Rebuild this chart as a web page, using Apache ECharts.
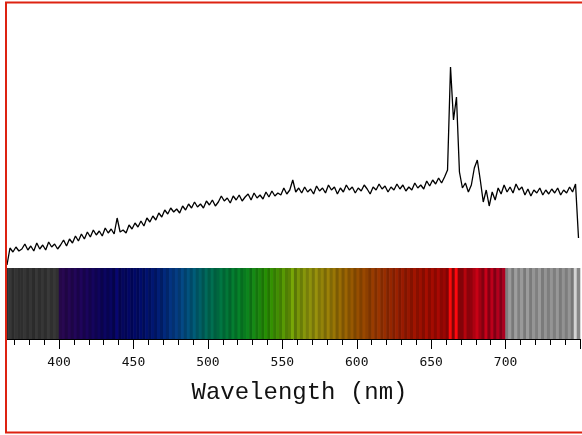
<!DOCTYPE html>
<html><head><meta charset="utf-8">
<script src="https://cdn.jsdelivr.net/npm/echarts@6/dist/echarts.min.js"></script>
<style>html,body{margin:0;padding:0;background:#fff}#c{width:582px;height:435px}</style>
</head><body><div id="c"></div>
<script>
// Spectrum samples: wavelength = WL_START + i*WL_STEP (nm), intensity in arbitrary units
const WL_START = 365, WL_STEP = 2;
const intensity = [
  15,32,28,33,29,   31,36,30,34,29,   37,31,35,30,38,   33,36,31,35,40,
  34,41,37,44,39,   46,41,48,43,50,   45,49,44,52,47,   51,46,62,48,50,
  47,55,51,57,53,   59,54,62,58,64,   60,67,63,70,66,   72,68,71,67,74,
  70,76,72,78,73,   76,72,79,75,80,   74,78,84,79,82,   77,84,80,85,79,
  83,86,80,87,82,   85,81,88,83,89,   84,87,85,92,86,   90,100,88,92,87,
  93,88,91,86,94,   89,92,87,95,90,   93,86,92,88,95,   90,93,87,92,89,
  95,91,86,93,90,   96,91,94,88,93,   90,96,91,95,89,   93,90,97,92,95,
  91,99,94,100,96,  102,97,103,110,213, 160,183,108,92,97, 88,95,112,120,100,
  78,90,74,88,80,   92,86,95,88,93,   87,96,90,93,85,   91,84,90,87,92,
  85,90,86,91,87,   92,85,90,87,93,   88,96,42
];
const X_MIN = 365, X_MAX = 750;
const TICKS_MINOR = [370,380,390,400,410,420,430,440,450,460,470,480,490,500,510,520,530,540,550,560,570,580,590,600,610,620,630,640,650,660,670,680,690,700,710,720,730,740,750];
const TICKS_MAJOR = [400,450,500,550,600,650,700,750];
const TICK_LABELS = [400,450,500,550,600,650,700];
const AXIS_TITLE = 'Wavelength (nm)';

// colour of the spectral band (style only)
const BAND_STOPS = [
  [365,[46,46,46]],[399.9,[52,52,52]],
  [400,[38,8,72]],[415,[28,4,82]],[430,[10,4,86]],[450,[0,6,92]],[465,[0,22,105]],
  [480,[5,60,125]],[490,[0,82,112]],[500,[0,98,80]],[510,[0,108,58]],[525,[8,122,30]],
  [540,[35,130,0]],[555,[95,140,5]],[570,[135,135,12]],[585,[140,108,5]],[600,[140,75,0]],
  [615,[140,48,0]],[630,[140,25,0]],[650,[150,10,0]],[670,[160,4,10]],[690,[158,0,22]],
  [700,[150,0,28]],[700.1,[140,140,140]],[750,[135,135,135]]
];
function baseColor(wl){
  for(let k=0;k<BAND_STOPS.length-1;k++){
    const a=BAND_STOPS[k], b=BAND_STOPS[k+1];
    if(wl>=a[0] && wl<=b[0]){
      const t=(wl-a[0])/(b[0]-a[0]);
      return a[1].map((c,j)=>c+(b[1][j]-c)*t);
    }
  }
  return BAND_STOPS[BAND_STOPS.length-1][1];
}
function bandColor(i){
  const wl = WL_START + i*WL_STEP;
  let dev = 0;
  if (i > 0 && i < intensity.length-1) {
    dev = intensity[i] - (intensity[i-1]+intensity[i+1])/2;
  }
  let f = 1 + dev*0.018;
  f = Math.max(0.82, Math.min(1.6, f));
  const c = baseColor(wl).map(v=>Math.max(0,Math.min(255,Math.round(v*f))));
  return 'rgb('+c.join(',')+')';
}

const lineData = intensity.map((v,i)=>[WL_START+i*WL_STEP, v]);
const bandData = intensity.map((v,i)=>[WL_START+i*WL_STEP, 1]);

const chart = echarts.init(document.getElementById('c'), null, {renderer:'canvas'});
const gridPos = {left:7, right:2};
chart.setOption({
  backgroundColor:'#fff',
  animation:false,
  grid:[
    Object.assign({top:40, height:240}, gridPos),
    Object.assign({top:268, height:71}, gridPos),
    Object.assign({top:268, height:71}, gridPos)
  ],
  xAxis:[
    {gridIndex:0, type:'value', min:X_MIN, max:X_MAX, show:false},
    {gridIndex:1, type:'value', min:X_MIN, max:X_MAX, position:'bottom', offset:2,
      axisLine:{show:true, lineStyle:{color:'#000', width:1}},
      axisTick:{show:true, customValues:TICKS_MAJOR, length:10, lineStyle:{color:'#000', width:1}},
      axisLabel:{show:true, customValues:TICK_LABELS, fontFamily:'DejaVu Sans Mono', fontSize:13, color:'#111', margin:15},
      splitLine:{show:false},
      name:AXIS_TITLE, nameLocation:'middle', nameGap:40,
      nameTextStyle:{fontFamily:'Liberation Mono', fontSize:24, color:'#111', padding:[0,0,0,12]}
    },
    {gridIndex:2, type:'value', min:X_MIN, max:X_MAX, position:'bottom', offset:2,
      axisLine:{show:false},
      axisTick:{show:true, customValues:TICKS_MINOR, length:6, lineStyle:{color:'#000', width:1}},
      axisLabel:{show:false}, splitLine:{show:false}
    }
  ],
  yAxis:[
    {gridIndex:0, type:'value', min:0, max:240, show:false},
    {gridIndex:1, type:'value', min:0, max:1, show:false},
    {gridIndex:2, type:'value', min:0, max:1, show:false}
  ],
  series:[
    {type:'bar', xAxisIndex:1, yAxisIndex:1, data:bandData, barWidth:3.6, clip:true,
      itemStyle:{color:(p)=>bandColor(p.dataIndex)}, silent:true},
    {type:'line', xAxisIndex:0, yAxisIndex:0, data:lineData, showSymbol:false, symbol:'none',
      lineStyle:{color:'#000', width:1.3}, silent:true}
  ],
  graphic:[
    {type:'rect', z:100, shape:{x:6, y:2.5, width:582, height:430}, style:{fill:'none', stroke:'#dd2211', lineWidth:2}, silent:true}
  ]
});
</script>
</body></html>
